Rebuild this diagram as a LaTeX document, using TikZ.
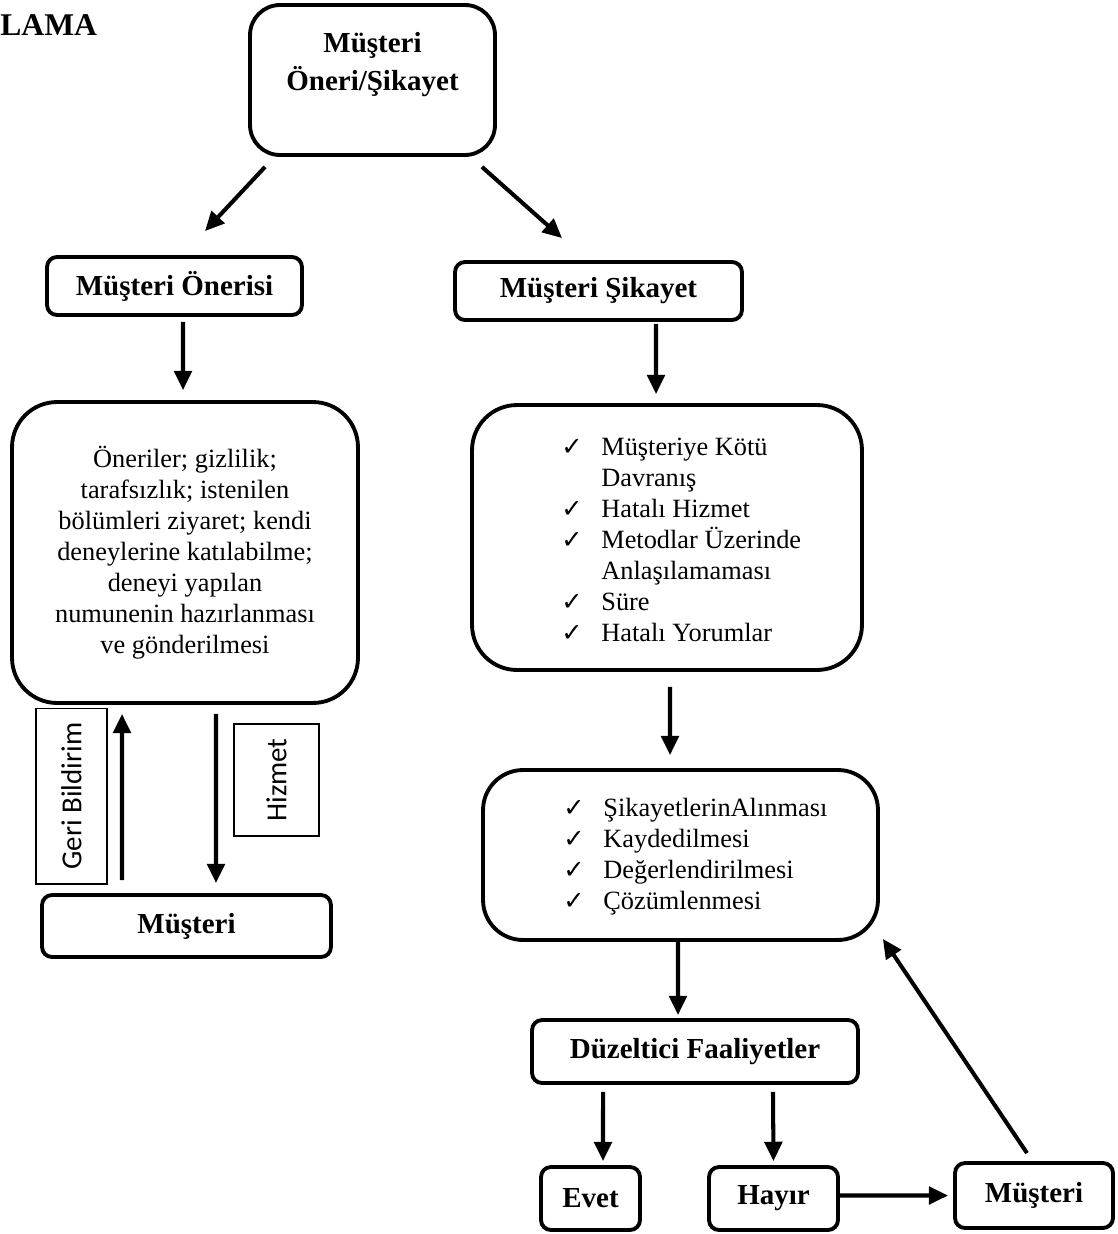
\documentclass[tikz,border=0pt]{standalone}
\usepackage{fontspec}
\setmainfont{Liberation Serif}
\newfontfamily\chkfont{DejaVu Sans}
\newfontfamily\calfont{Carlito}
\usetikzlibrary{arrows.meta}
\newcommand{\ck}{\makebox[0.8cm][l]{\chkfont\fontsize{14.5}{14}\selectfont ✓}}
\newcommand{\ckgap}{\hspace*{0.8cm}}
\begin{document}
\begin{tikzpicture}[x=0.02cm,y=-0.02cm,
  bx/.style={draw, line width=2.2pt, rounded corners=0.2cm, inner sep=0pt, align=center,
             font=\bfseries\fontsize{16.5}{20}\selectfont},
  bigbx/.style={draw, line width=2.2pt, rounded corners=0.9cm, inner sep=0pt},
  thinbx/.style={draw, line width=0.6pt, inner sep=0pt, rotate=90,
             font=\calfont\fontsize{16.5}{19}\selectfont},
  listtxt/.style={anchor=west, align=left, inner sep=0pt, font=\fontsize{15}{17.6}\selectfont},
  arr/.style={line width=2.3pt, -{Triangle[length=11pt,width=10pt]}}]
\useasboundingbox (0,0) rectangle (1117,1234);

\node[font=\bfseries\fontsize{18}{20}\selectfont, anchor=west, inner sep=0pt] (lama) at (0,25) {LAMA};

\node[bx, rounded corners=0.6cm, minimum width=4.9cm, minimum height=3cm,
      font=\bfseries\fontsize{16.5}{21.6}\selectfont] (top) at (372.5,80) {Müşteri\\Öneri/Şikayet\\\mbox{}};

\node[bx, minimum width=5.1cm, minimum height=1.16cm] (oner) at (174.5,286) {Müşteri Önerisi};
\node[bx, minimum width=5.74cm, minimum height=1.16cm] (sik) at (598.5,291) {Müşteri Şikayet};

\node[bigbx, minimum width=6.92cm, minimum height=6.02cm, align=center,
      font=\fontsize{15}{17.6}\selectfont] (lbox) at (185,552.5)
  {Öneriler; gizlilik;\\tarafsızlık; istenilen\\bölümleri ziyaret; kendi\\deneylerine katılabilme;\\deneyi yapılan\\numunenin hazırlanması\\ve gönderilmesi};

\node[bigbx, minimum width=7.8cm, minimum height=5.3cm] (rbox) at (667,537.5) {};
\node[listtxt] (rlist) at (561,540)
  {\ck Müşteriye Kötü\\\ckgap Davranış\\\ck Hatalı Hizmet\\\ck Metodlar Üzerinde\\\ckgap Anlaşılamaması\\\ck Süre\\\ck Hatalı Yorumlar};

\node[bigbx, rounded corners=0.8cm, minimum width=7.9cm, minimum height=3.4cm] (l2box) at (680.5,855) {};
\node[listtxt] (l2list) at (563,857)
  {\ck ŞikayetlerinAlınması\\\ck Kaydedilmesi\\\ck Değerlendirilmesi\\\ck Çözümlenmesi};

\node[bx, minimum width=6.52cm, minimum height=1.26cm] (duz) at (695,1051.5) {Düzeltici Faaliyetler};
\node[bx, minimum width=1.98cm, minimum height=1.26cm] (evet) at (590.5,1198.5) {Evet};
\node[bx, minimum width=2.58cm, minimum height=1.26cm] (hayir) at (773.5,1198.5) {Hayır};
\node[bx, minimum width=3.16cm, minimum height=1.3cm] (mus2) at (1034,1195.5) {Müşteri};
\node[bx, minimum width=5.78cm, minimum height=1.24cm] (mus1) at (186.5,926) {Müşteri};

\node[thinbx, minimum width=3.52cm, minimum height=1.42cm] (geri) at (71.5,796) {Geri Bildirim};
\node[thinbx, minimum width=2.24cm, minimum height=1.7cm] (hiz) at (276.5,780) {Hizmet};

\draw[arr] ([xshift=-2.15cm,yshift=-0.2cm]top.south) -- ([xshift=0.61cm,yshift=0.48cm]oner.north);
\draw[arr] ([xshift=2.19cm,yshift=-0.2cm]top.south) -- ([xshift=-0.73cm,yshift=0.44cm]sik.north);
\draw[arr] ([xshift=0.17cm,yshift=-0.1cm]oner.south) -- ([xshift=-0.04cm,yshift=0.2cm]lbox.north);
\draw[arr] ([xshift=1.15cm,yshift=-0.04cm]sik.south) -- ([xshift=-0.22cm,yshift=0.18cm]rbox.north);
\draw[arr] ([xshift=0.06cm,yshift=-0.3cm]rbox.south) -- ([xshift=-0.21cm,yshift=0.26cm]l2box.north);
\draw[arr] ([xshift=-0.05cm]l2box.south) -- ([xshift=-0.34cm,yshift=0.06cm]duz.north);
\draw[arr] ([xshift=-1.84cm,yshift=-0.14cm]duz.south) -- ([xshift=0.25cm,yshift=0.08cm]evet.north);
\draw[arr] ([xshift=1.56cm,yshift=-0.14cm]duz.south) -- ([yshift=0.08cm]hayir.north);
\draw[arr] ([yshift=0.06cm]hayir.east) -- ([xshift=-0.1cm]mus2.west);
\draw[arr] ([xshift=-0.14cm,yshift=0.16cm]mus2.north) -- ([xshift=0.06cm,yshift=0.06cm]l2box.south east);
\draw[arr] ([xshift=-1.29cm,yshift=0.26cm]mus1.north) -- ([xshift=-1.26cm,yshift=-0.18cm]lbox.south);
\draw[arr] ([xshift=0.62cm,yshift=-0.18cm]lbox.south) -- ([xshift=0.59cm,yshift=0.2cm]mus1.north);
\end{tikzpicture}
\end{document}
